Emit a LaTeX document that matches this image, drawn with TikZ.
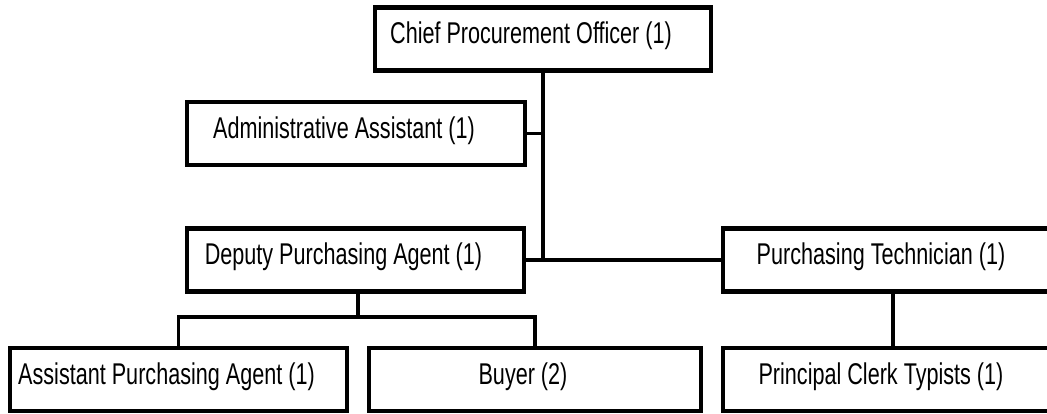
\documentclass[tikz,border=0pt]{standalone}
\usepackage{fontspec}
\setmainfont{Liberation Sans}[FakeStretch=0.72]
\usepackage{tikz}
\usetikzlibrary{positioning,calc}

\begin{document}
\begin{tikzpicture}[x=1pt, y=1pt,
    every node/.style={font=\fontsize{30}{35}\selectfont},
    unit/.style={draw=black, line width=4.2pt, minimum height=63pt,
                 inner sep=0pt},
    tag/.style={xshift=-12pt, yshift=3pt, inner sep=0pt},
    link/.style={draw=black, line width=3.4pt}]
  \useasboundingbox (0,0) rectangle (1047,-413);
  % top of the chart
  \node[unit, minimum width=336pt, label={[tag]center:Chief Procurement Officer (1)}] (cpo) at (543,-39) {};
  \node[unit, minimum width=338pt, label={[tag]center:Administrative Assistant (1)}] (aa) at (356,-133.5) {};
  % second row
  \node[unit, minimum width=337pt, label={[tag]center:Deputy Purchasing Agent (1)}] (dpa) at (355.5,-260) {};
  \node[unit, minimum width=340pt, label={[tag]center:Purchasing Technician (1)}] (pt) at (893,-260) {};
  % bottom row
  \node[unit, minimum width=337pt, label={[tag]center:Assistant Purchasing Agent (1)}] (apa) at (178.5,-379.5) {};
  \node[unit, minimum width=332pt, label={[tag]center:Buyer (2)}] (buy) at (535,-379.5) {};
  \node[unit, minimum width=340pt, label={[tag]center:Principal Clerk Typists (1)}] (pct) at (893,-379.5) {};
  \coordinate (split) at (358,-317);
  \draw[link] (cpo.south) -- (cpo.south |- dpa.east);
  \draw[link] (aa.east) -- (aa.east -| cpo.south);
  \draw[link] (dpa.east) -- (pt.west);
  \draw[link] (dpa.south -| split) -- (split);
  \draw[link] (apa.north) |- (split) -| (buy.north);
  \draw[link] (pt) -- (pct);
\end{tikzpicture}
\end{document}
